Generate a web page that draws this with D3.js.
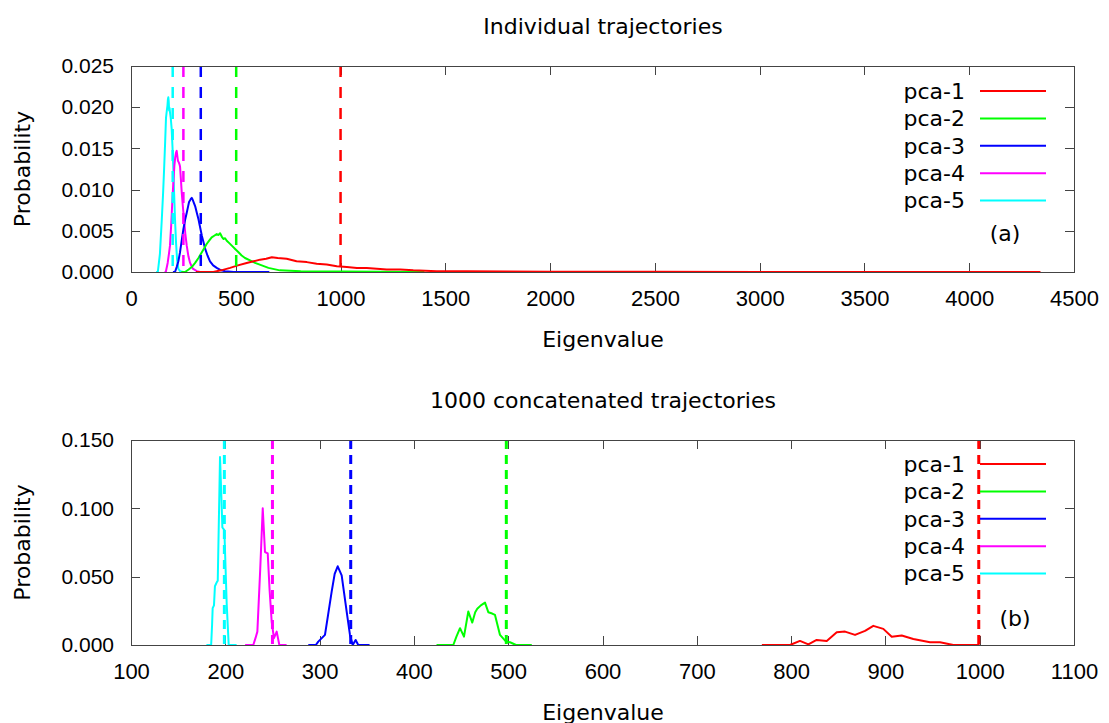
<!DOCTYPE html>
<html lang="en">
<head>
    <meta charset="UTF-8">
    <title>Eigenvalue distributions</title>
    <script src="https://d3js.org/d3.v7.min.js"></script>
    <style>
        body {
            margin: 0;
            background: #fff;
            font-family: "DejaVu Sans", sans-serif;
        }
        .axis text {
            font-size: 22px;
            fill: #000;
        }
        .y.axis text {
            font-size: 21px;
        }
        .axis line {
            stroke: #444;
            shape-rendering: crispEdges;
        }
        .axis path {
            display: none;
        }
        .frame {
            fill: none;
            stroke: #444;
            stroke-width: 1px;
            shape-rendering: crispEdges;
        }
        .curve {
            fill: none;
            stroke-width: 2px;
            stroke-linejoin: round;
        }
        .label {
            fill: #000;
            font-size: 22px;
        }
        .legend text {
            font-size: 22px;
        }
    </style>
</head>
<body>
    <svg width="1109" height="723"></svg>
    <script>
        var names = ["pca-1", "pca-2", "pca-3", "pca-4", "pca-5"];
        var colors = ["#ff0000", "#00ff00", "#0000ff", "#ff00ff", "#00ffff"];

        // mean eigenvalue of each component (dashed lines)
        var meanTop = [1000, 502, 333, 250, 199];
        var meanBottom = [999, 498, 333, 250, 199];

        // (a) individual trajectories: [eigenvalue, probability]
        var topPca1 = [[310,0],[393,0],[430,0.0002],[473,0.0005],[510,0.0008],[552,0.0011],[585,0.0013],[616,0.0015],[645,0.0016],[672,0.0018],[700,0.0017],[743,0.0016],[790,0.0013],[839,0.0012],[886,0.0010],[934,0.0009],[982,0.0007],[1030,0.0006],[1078,0.0005],[1125,0.0005],[1173,0.0004],[1220,0.0003],[1285,0.0003],[1347,0.0002],[1459,0.0001],[1600,0.00008],[1800,0.00005],[2000,0.00003],[2500,0.00002],[3000,0.00001],[3500,0.00001],[4000,0],[4340,0]];
        var topPca2 = [[240,0],[258,0],[275,0.0003],[290,0.0006],[306,0.0011],[322,0.0017],[338,0.0024],[350,0.0029],[361,0.0034],[373,0.0038],[385,0.0042],[397,0.0044],[409,0.0046],[417,0.0045],[425,0.0047],[433,0.0043],[441,0.0040],[449,0.0041],[457,0.0038],[469,0.0035],[481,0.0032],[497,0.0028],[513,0.0024],[528,0.0020],[544,0.0017],[568,0.0014],[592,0.0011],[624,0.0008],[656,0.0005],[710,0.0002],[810,0.0001],[1010,0.00005],[1400,0]];
        var topPca3 = [[200,0],[210,0],[218,0.0006],[226,0.0013],[234,0.0024],[242,0.0038],[250,0.0052],[258,0.0063],[266,0.0072],[272,0.0079],[277,0.0085],[282,0.0087],[286,0.0089],[290,0.0090],[294,0.0088],[300,0.0084],[306,0.0080],[314,0.0072],[322,0.0064],[330,0.0054],[338,0.0044],[346,0.0036],[354,0.0028],[365,0.0020],[377,0.0013],[392,0.0008],[409,0.0005],[430,0.0002],[449,0.0001],[490,0],[660,0]];
        var topPca4 = [[160,0],[166,0],[175,0.0011],[181,0.0022],[186,0.0032],[192,0.0058],[197,0.0085],[202,0.0108],[207,0.0129],[211,0.0139],[215,0.0145],[218,0.0147],[221,0.0141],[224,0.0135],[228,0.0133],[231,0.0131],[234,0.0128],[238,0.0113],[242,0.0097],[247,0.0081],[253,0.0064],[259,0.0047],[266,0.0032],[274,0.0019],[282,0.0011],[295,0.0004],[314,0.0001],[330,0]];
        var topPca5 = [[120,0],[128,0],[138,0.0022],[147,0.0064],[153,0.0095],[158,0.0125],[163,0.0158],[167,0.0187],[171,0.0196],[174,0.0202],[176,0.0209],[178,0.0212],[180,0.0207],[182,0.0196],[184,0.0199],[186,0.0194],[190,0.0186],[194,0.0174],[198,0.0152],[202,0.0125],[206,0.0094],[210,0.0064],[215,0.0035],[220,0.0015],[226,0.0004],[234,0.0001],[250,0]];

        // (b) 1000 concatenated trajectories
        var botPca1 = [[769,0],[798.8,0],[809.4,0.003],[818.3,0.0005],[827.1,0.0037],[837.8,0.003],[848.4,0.0093],[857.2,0.0098],[867.8,0.0074],[878.4,0.0103],[887.2,0.014],[897.8,0.0118],[906.7,0.0061],[917.3,0.0069],[929.6,0.0044],[947.3,0.002],[957.9,0.002],[972,0],[1000,0]];
        var botPca2 = [[424,0],[441.8,0],[445,0.006],[448.9,0.0123],[453.1,0.0061],[457.7,0.0245],[461.9,0.0164],[465,0.024],[467.2,0.0265],[471,0.029],[475.4,0.031],[478.9,0.024],[483,0.023],[486,0.022],[491.3,0.0074],[497.7,0.0025],[501.9,0.002],[508.3,0],[525,0]];
        var botPca3 = [[288,0],[296,0],[298.6,0.0025],[305.7,0.0074],[309,0.022],[312.8,0.039],[316,0.052],[319.2,0.0576],[323.4,0.051],[326,0.038],[328.7,0.0245],[332.2,0.0074],[335.1,0],[338.2,0.0037],[341,0],[353,0]];
        var botPca4 = [[221,0],[229.7,0],[232,0.005],[234,0.0098],[237,0.055],[239.7,0.100],[242.1,0.068],[245,0.067],[247,0.04],[249.2,0.017],[251.6,0.005],[254.5,0.0098],[257.3,0],[265,0]];
        var botPca5 = [[180,0],[185,0],[186,0.015],[186.6,0.027],[188,0.029],[189,0.043],[191,0.046],[192,0.047],[194.4,0.1375],[196,0.105],[196.9,0.086],[199,0.084],[201.5,0.03],[203.6,0],[212,0]];

        var topXTicks = [0, 500, 1000, 1500, 2000, 2500, 3000, 3500, 4000, 4500];
        var topYTicks = [0, 0.005, 0.010, 0.015, 0.020, 0.025];
        var botXTicks = [100, 200, 300, 400, 500, 600, 700, 800, 900, 1000, 1100];
        var botYTicks = [0, 0.050, 0.100, 0.150];

        var svg = d3.select("svg");
        var left = 131, right = 1074;

        function drawPanel(p) {
            var x = d3.scaleLinear().domain(p.xDomain).range([left, right]);
            var y = d3.scaleLinear().domain(p.yDomain).range([p.bottom, p.top]);
            var g = svg.append("g");

            g.append("g")
                .attr("class", "x axis")
                .attr("transform", "translate(0," + p.bottom + ")")
                .call(d3.axisBottom(x).tickValues(p.xTicks).tickSize(-9).tickPadding(18).tickFormat(d3.format("d")));
            g.append("g")
                .attr("class", "axis")
                .attr("transform", "translate(0," + p.top + ")")
                .call(d3.axisTop(x).tickValues(p.xTicks).tickSize(-9).tickFormat(""));
            g.append("g")
                .attr("class", "y axis")
                .attr("transform", "translate(" + left + ",0)")
                .call(d3.axisLeft(y).tickValues(p.yTicks).tickSize(-9).tickPadding(17).tickFormat(d3.format(".3f")));
            g.append("g")
                .attr("class", "axis")
                .attr("transform", "translate(" + right + ",0)")
                .call(d3.axisRight(y).tickValues(p.yTicks).tickSize(-9).tickFormat(""));

            var line = d3.line()
                .x(function(d) { return x(d[0]); })
                .y(function(d) { return y(d[1]); });

            // curves, drawn last-to-first (pca-1 on top)
            for (var i = p.series.length - 1; i >= 0; i--) {
                g.append("path")
                    .datum(p.series[i])
                    .attr("class", "curve")
                    .attr("stroke", colors[i])
                    .attr("d", line);
            }

            // dashed mean lines
            g.append("g")
                .selectAll("line")
                .data(p.means)
              .enter().append("line")
                .attr("x1", function(d) { return x(d); })
                .attr("x2", function(d) { return x(d); })
                .attr("y1", p.top)
                .attr("y2", p.bottom)
                .attr("stroke", function(d, i) { return colors[i]; })
                .attr("stroke-width", p.dashWidth)
                .attr("stroke-dasharray", p.dash);

            // legend
            var legend = g.append("g").attr("class", "legend");
            names.forEach(function(name, i) {
                var ly = p.legendY + i * 27.4;
                legend.append("text")
                    .attr("x", 965)
                    .attr("y", ly)
                    .attr("dy", "0.35em")
                    .style("text-anchor", "end")
                    .text(name);
                legend.append("line")
                    .attr("x1", 980)
                    .attr("x2", 1046)
                    .attr("y1", ly)
                    .attr("y2", ly)
                    .attr("stroke", colors[i])
                    .attr("stroke-width", 2);
            });
            legend.append("text")
                .attr("x", p.tagX)
                .attr("y", p.tagY)
                .attr("dy", "0.35em")
                .style("text-anchor", "middle")
                .text(p.tag);

            g.append("rect")
                .attr("class", "frame")
                .attr("x", left)
                .attr("y", p.top)
                .attr("width", right - left)
                .attr("height", p.bottom - p.top);

            g.append("text")
                .attr("class", "label")
                .attr("x", 603)
                .attr("y", p.top - 32)
                .style("text-anchor", "middle")
                .text(p.title);
            g.append("text")
                .attr("class", "label")
                .attr("x", 603)
                .attr("y", p.bottom + 75)
                .style("text-anchor", "middle")
                .text("Eigenvalue");
            g.append("text")
                .attr("class", "label")
                .attr("transform", "rotate(-90)")
                .attr("x", -(p.top + p.bottom) / 2)
                .attr("y", 22)
                .attr("dy", "0.35em")
                .style("text-anchor", "middle")
                .text("Probability");
        }

        drawPanel({
            title: "Individual trajectories",
            top: 66, bottom: 272,
            xDomain: [0, 4500], yDomain: [0, 0.025],
            xTicks: topXTicks, yTicks: topYTicks,
            series: [topPca1, topPca2, topPca3, topPca4, topPca5],
            means: meanTop,
            dash: "11,10", dashWidth: 2.5,
            legendY: 91, tag: "(a)", tagX: 1005, tagY: 233
        });

        drawPanel({
            title: "1000 concatenated trajectories",
            top: 440, bottom: 645,
            xDomain: [100, 1100], yDomain: [0, 0.15],
            xTicks: botXTicks, yTicks: botYTicks,
            series: [botPca1, botPca2, botPca3, botPca4, botPca5],
            means: meanBottom,
            dash: "9,6", dashWidth: 3,
            legendY: 464, tag: "(b)", tagX: 1015, tagY: 618
        });
    </script>
</body>
</html>
